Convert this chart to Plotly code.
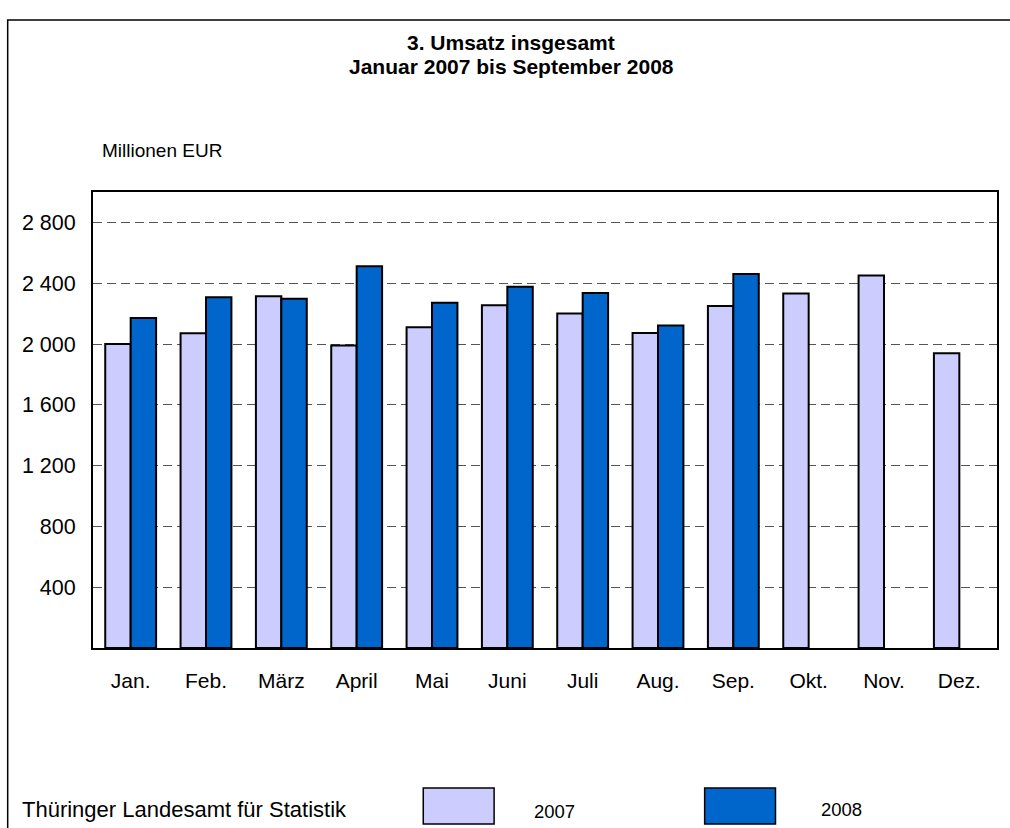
import plotly.graph_objects as go

months = ["Jan.", "Feb.", "März", "April", "Mai", "Juni", "Juli", "Aug.", "Sep.", "Okt.", "Nov.", "Dez."]
umsatz_2007 = [2000, 2070, 2314, 1990, 2110, 2255, 2200, 2073, 2250, 2332, 2450, 1939]
umsatz_2008 = [2171, 2308, 2297, 2512, 2272, 2376, 2336, 2121, 2461, None, None, None]
y_tickvals = [400, 800, 1200, 1600, 2000, 2400, 2800]
y_ticktext = ["400", "800", "1 200", "1 600", "2 000", "2 400", "2 800"]

FONT = "Liberation Sans, Arial, sans-serif"
C2007 = "#CCCCFF"
C2008 = "#0066CC"

W, H = 1010, 828
ML, MR, MT, MB = 93, 11, 192, 180
PW = W - ML - MR
PH = H - MT - MB


def px(x):
    return (x - ML) / PW


def py(y):
    return (H - MB - y) / PH


fig = go.Figure()
fig.add_trace(go.Bar(x=months, y=umsatz_2007, name="2007",
                     marker=dict(color=C2007, line=dict(color="black", width=2))))
fig.add_trace(go.Bar(x=months, y=umsatz_2008, name="2008",
                     marker=dict(color=C2008, line=dict(color="black", width=2))))

shapes = [
    # outer border (left and top visible)
    dict(type="rect", xref="paper", yref="paper", x0=px(7.5), x1=px(1020), y0=py(20), y1=py(840),
         line=dict(color="black", width=1.5), layer="below"),
    # legend swatches
    dict(type="rect", xref="paper", yref="paper", x0=px(424), x1=px(495), y0=py(824), y1=py(788),
         fillcolor=C2007, line=dict(color="black", width=1.5)),
    dict(type="rect", xref="paper", yref="paper", x0=px(706), x1=px(777), y0=py(824), y1=py(788),
         fillcolor=C2008, line=dict(color="black", width=1.5)),
]

annotations = [
    dict(text="<b>3. Umsatz insgesamt</b>", x=px(512), y=py(42.5), xref="paper", yref="paper",
         showarrow=False, xanchor="center", yanchor="middle", font=dict(size=21, color="black", family=FONT)),
    dict(text="<b>Januar 2007 bis September 2008</b>", x=px(512), y=py(66.5), xref="paper", yref="paper",
         showarrow=False, xanchor="center", yanchor="middle", font=dict(size=21, color="black", family=FONT)),
    dict(text="Millionen EUR", x=px(100), y=py(150), xref="paper", yref="paper",
         showarrow=False, xanchor="left", yanchor="middle", font=dict(size=19, color="black", family=FONT)),
    dict(text="Thüringer Landesamt für Statistik", x=px(20), y=py(809), xref="paper", yref="paper",
         showarrow=False, xanchor="left", yanchor="middle", font=dict(size=22, color="black", family=FONT)),
    dict(text="2007", x=px(533), y=py(811), xref="paper", yref="paper",
         showarrow=False, xanchor="left", yanchor="middle", font=dict(size=18.5, color="black", family=FONT)),
    dict(text="2008", x=px(821), y=py(809), xref="paper", yref="paper",
         showarrow=False, xanchor="left", yanchor="middle", font=dict(size=18.5, color="black", family=FONT)),
]

fig.update_layout(
    width=W, height=H,
    margin=dict(l=ML, r=MR, t=MT, b=MB, pad=0),
    paper_bgcolor="white", plot_bgcolor="white",
    barmode="group", bargap=0.325, bargroupgap=0,
    showlegend=False,
    font=dict(family=FONT, color="black"),
    shapes=shapes,
    annotations=annotations,
)
fig.update_xaxes(
    type="category",
    showline=True, linecolor="black", linewidth=2, mirror=True,
    ticks="", showgrid=False,
    tickfont=dict(size=21, family=FONT, color="black"),
    ticklabelstandoff=13,
)
fig.update_yaxes(
    range=[0, 3000],
    tickvals=y_tickvals, ticktext=y_ticktext,
    showline=True, linecolor="black", linewidth=2, mirror=True,
    ticks="", showgrid=True, gridcolor="#555555", gridwidth=1, griddash="9px,5px",
    zeroline=False,
    tickfont=dict(size=21.5, family=FONT, color="black"),
    ticklabelstandoff=11,
)

fig.write_html("out.html", config={"displayModeBar": False},
               post_script="document.body.style.margin='0';document.body.style.overflow='hidden';")
